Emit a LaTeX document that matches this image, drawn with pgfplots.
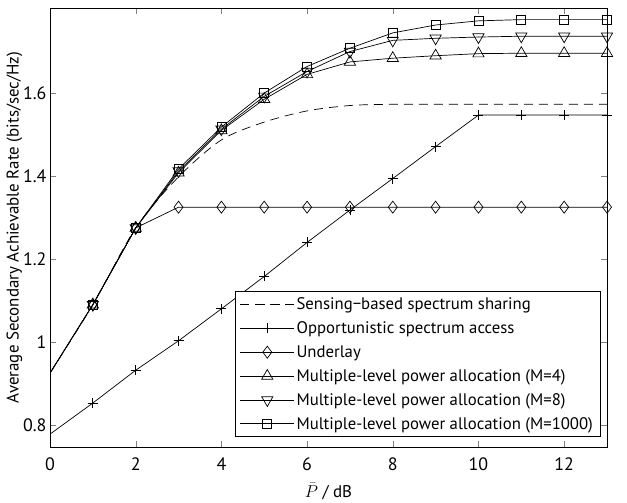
\documentclass[border=0pt]{standalone}
\usepackage{pgfplots}
\pgfplotsset{compat=1.18}
\usepackage{fontspec}
\setmainfont{PT Sans}
\begin{document}
\begin{tikzpicture}
\begin{axis}[name=ax,
  scale only axis, width=557bp, height=439bp,
  xmin=0, xmax=13, ymin=0.747, ymax=1.805,
  xtick={0,2,4,6,8,10,12},
  ytick={0.8,1,1.2,1.4,1.6},
  yticklabels={0.8,1,1.2,1.4,1.6},
  tick align=inside, major tick length=6bp,
  /pgf/number format/assume math mode=true,
  ticklabel style={font=\fontsize{18}{21}\selectfont},
  xticklabel style={yshift=-7bp},
  label style={font=\fontsize{17}{20}\selectfont},
  xlabel={$\bar{P}$ / dB},
  ylabel={Average Secondary Achievable Rate (bits/sec/Hz)},
  xlabel style={yshift=-8bp, inner sep=1bp},
  ylabel style={yshift=-6bp},
  axis line style={line width=0.9bp},
  every axis plot/.append style={black, line width=0.7bp},
  legend style={at={(0.988,0.023)}, anchor=south east, font=\fontsize{16.8}{20}\selectfont, draw=black, line width=0.8bp, row sep=6.5bp, inner xsep=5bp, inner ysep=4bp},
  legend cell align=left,
  legend image code/.code={\draw[mark indices={2}] plot coordinates {(0cm,0cm) (0.95cm,0cm) (1.9cm,0cm)};},
]
\addplot[dashed, dash pattern=on 9bp off 6bp, smooth] coordinates {
(0,0.925) (1,1.09) (2,1.275) (3,1.398) (4,1.487) (5,1.530) (6,1.557) (7,1.570) (8,1.573) (9,1.573) (10,1.573) (11,1.573) (12,1.573) (13,1.573)};
\addlegendentry{Sensing−based spectrum sharing}
\addplot[mark=+, mark size=5bp, mark options={solid}, mark indices={2,...,14}] coordinates {
(0,0.778) (1,0.853) (2,0.932) (3,1.003) (4,1.080) (5,1.158) (6,1.240) (7,1.318) (8,1.394) (9,1.471) (10,1.547) (11,1.547) (12,1.547) (13,1.547)};
\addlegendentry{Opportunistic spectrum access}
\addplot[mark=diamond, mark size=6bp, mark options={solid}] coordinates {
(1,1.09) (2,1.275) (3,1.325) (4,1.325) (5,1.325) (6,1.325) (7,1.325) (8,1.325) (9,1.325) (10,1.325) (11,1.325) (12,1.325) (13,1.325)};
\addlegendentry{Underlay}
\addplot[mark=triangle, mark size=6.5bp, mark options={solid}, mark indices={2,...,14}] coordinates {
(0,0.925) (1,1.09) (2,1.275) (3,1.408) (4,1.510) (5,1.585) (6,1.645) (7,1.675) (8,1.684) (9,1.690) (10,1.695) (11,1.696) (12,1.696) (13,1.696)};
\addlegendentry{Multiple-level power allocation (M=4)}
\addplot[mark=triangle, mark size=6.5bp, mark options={solid, rotate=180}, mark indices={2,...,14}] coordinates {
(0,0.925) (1,1.09) (2,1.275) (3,1.412) (4,1.513) (5,1.592) (6,1.652) (7,1.700) (8,1.727) (9,1.732) (10,1.735) (11,1.737) (12,1.737) (13,1.737)};
\addlegendentry{Multiple-level power allocation (M=8)}
\addplot[mark=square, mark size=4.5bp, mark options={solid}, mark indices={2,...,14}] coordinates {
(0,0.925) (1,1.09) (2,1.275) (3,1.417) (4,1.518) (5,1.600) (6,1.664) (7,1.708) (8,1.745) (9,1.764) (10,1.774) (11,1.777) (12,1.777) (13,1.777)};
\addlegendentry{Multiple-level power allocation (M=1000)}
\end{axis}
\path ([shift={(-50bp,-56bp)}]ax.south west) rectangle ([shift={(20bp,8bp)}]ax.north east);
\end{tikzpicture}
\end{document}
